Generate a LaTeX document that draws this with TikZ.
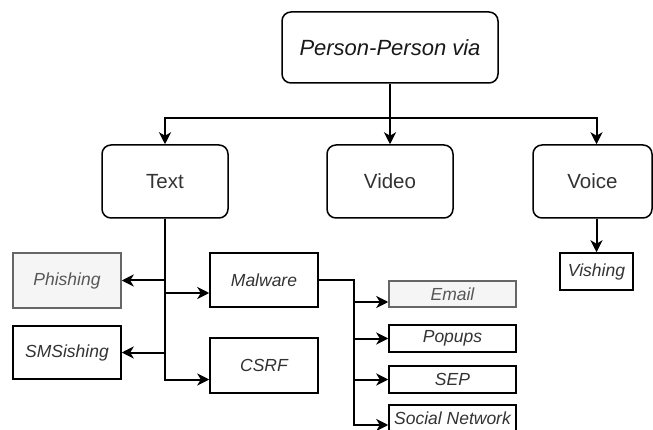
\documentclass[tikz,border=0pt]{standalone}
\usepackage{fontspec}
\setmainfont{Liberation Sans}
\usetikzlibrary{arrows.meta}

\definecolor{pptext}{RGB}{51,51,51}
\definecolor{ppfill}{RGB}{245,245,245}
\definecolor{ppline}{RGB}{102,102,102}

\begin{document}
\begin{tikzpicture}[x=1pt, y=-1pt,
    mainbox/.style={draw, line width=1.5pt, rounded corners=9pt, fill=white, text=pptext,
      font=\fontsize{20.5}{24}\selectfont, inner sep=0pt},
    leafbox/.style={draw, line width=1.5pt, fill=white, text=pptext,
      font=\fontsize{17.5}{21}\selectfont\itshape, inner sep=0pt},
    greybox/.style={leafbox, draw=ppline, fill=ppfill, text=ppline!85!black},
    link/.style={line width=2pt, -{Stealth[length=12pt, width=12pt, inset=3.5pt]}}]
        \useasboundingbox (0,0) rectangle (653,430);
        % top and second level
        \node[mainbox, font=\fontsize{22}{26}\selectfont\itshape, text=black!90,
          minimum width=216pt, minimum height=71pt] (person) at (390,47.5) {Person-Person via};
        \node[mainbox, minimum width=126pt, minimum height=73pt] (text) at (165,181.5) {Text};
        \node[mainbox, minimum width=126pt, minimum height=73pt] (video) at (390,181.5) {Video};
        \node[mainbox, minimum width=119pt, minimum height=73pt] (voice) at (592.5,181.5) {Voice};
        \coordinate (fork) at (390,118);
        % text branch
        \node[greybox, minimum width=108pt, minimum height=55pt] (phishing) at (67,280.5) {Phishing};
        \node[leafbox, minimum width=108pt, minimum height=53pt] (smsishing) at (67,352.5) {SMSishing};
        \node[leafbox, minimum width=108pt, minimum height=54pt] (malware) at (264,280) {Malware};
        \node[leafbox, minimum width=108pt, minimum height=55pt] (csrf) at (264,365.5) {CSRF};
        % malware branch
        \node[greybox, minimum width=127pt, minimum height=26pt] (email) at (452.5,294) {Email};
        \node[leafbox, minimum width=127pt, minimum height=27pt] (popups) at (452.5,338.5) {Popups};
        \node[leafbox, minimum width=127pt, minimum height=27pt] (sep) at (452.5,379.5) {SEP};
        \node[leafbox, minimum width=127pt, minimum height=27pt] (social) at (452.5,418.5) {Social Network};
        \coordinate (mbus) at (354,280);
        % voice branch
        \node[leafbox, minimum width=73pt, minimum height=37pt] (vishing) at (596.5,271.5) {Vishing};

        \draw[link] (person.south) -- (video.north);
        \draw[link] (fork) -| (text.north);
        \draw[link] (fork) -| (vishing.north |- voice.north);
        \draw[link] (text.south) |- (phishing.east);
        \draw[link] (text.south) |- (smsishing.east);
        \draw[link] (text.south) |- ([yshift=-13pt]malware.west);
        \draw[link] (text.south) |- ([yshift=-14pt]csrf.west);
        \draw[link] (malware.east) -- (mbus) |- ([yshift=-8pt]email.west);
        \draw[link] (malware.east) -- (mbus) |- (popups.west);
        \draw[link] (malware.east) -- (mbus) |- (sep.west);
        \draw[link] (malware.east) -- (mbus) |- ([yshift=-6.5pt]social.west);
        \draw[link] (voice.south -| vishing.north) -- (vishing.north);
      \end{tikzpicture}
\end{document}
